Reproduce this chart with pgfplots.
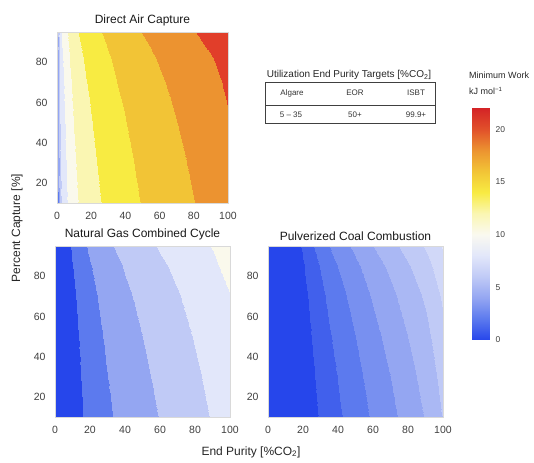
\documentclass[border=0pt]{standalone}
\usepackage{fontspec}
\setmainfont{Liberation Sans}
\usepackage{pgfplots}
\pgfplotsset{compat=1.18}
\pgfplotsset{
  colormap={bands2}{rgb255=(38,70,235) rgb255=(92,122,238) rgb255=(148,166,242) rgb255=(192,202,246) rgb255=(226,231,250) rgb255=(250,249,236) rgb255=(250,246,178) rgb255=(248,235,66) rgb255=(242,196,54) rgb255=(236,147,48) rgb255=(225,62,42)},
  colormap={bands1}{rgb255=(38,70,235) rgb255=(65,96,236) rgb255=(92,122,238) rgb255=(120,144,240) rgb255=(148,166,242) rgb255=(170,184,244) rgb255=(192,202,246) rgb255=(209,216,248) rgb255=(226,231,250) rgb255=(238,240,243) rgb255=(250,249,236) rgb255=(250,247,207) rgb255=(250,246,178) rgb255=(249,240,122) rgb255=(248,235,66) rgb255=(245,215,60) rgb255=(242,196,54) rgb255=(239,171,51) rgb255=(236,147,48) rgb255=(230,104,45) rgb255=(225,62,42) rgb255=(218,48,40)},
  colormap={smooth}{rgb255=(38,70,235) rgb255=(92,122,238) rgb255=(148,166,242) rgb255=(192,202,246) rgb255=(226,231,250) rgb255=(250,249,240) rgb255=(250,246,178) rgb255=(248,235,66) rgb255=(242,196,54) rgb255=(236,147,48) rgb255=(225,80,42) rgb255=(212,35,38)},
  cplot/.style={
    scale only axis, anchor=south west,
    xmin=0, xmax=100, ymin=10, ymax=95,
    xtick={0,20,40,60,80,100}, ytick={20,40,60,80},
    point meta min=0, point meta max=22,
    colormap access=piecewise constant,
    axis line style={draw=black!15}, major tick length=0pt,
    tick label style={font=\fontsize{10.5}{12}\selectfont, text=black!75},
    /pgf/number format/assume math mode=true,
    title style={font=\fontsize{12}{14}\selectfont, text=black!90, yshift=-4pt},
    xticklabel style={yshift=-6pt}, yticklabel style={xshift=-6pt},
    axis on top,
  },
}
\begin{document}
\begin{tikzpicture}
% ---------------- Direct Air Capture ----------------
\begin{axis}[cplot, at={(57pt,259pt)}, width=171pt, height=171pt, colormap name=bands2, title={Direct Air Capture}]
\addplot[surf, shader=interp, mesh/cols=21, point meta=explicit] coordinates {
(0,10)[0] (0.2,10)[1.642] (0.5,10)[3.917] (1,10)[5.641] (2,10)[7.372] (3,10)[8.390] (5,10)[9.682] (7.5,10)[10.719] (10,10)[11.465] (13,10)[12.156] (17,10)[12.876] (22,10)[13.587] (28,10)[14.274] (35,10)[14.938] (43,10)[15.585] (50,10)[16.088] (60,10)[16.744] (70,10)[17.361] (80,10)[17.974] (90,10)[18.629] (100,10)[19.524]
(0,25)[0] (0.2,25)[1.853] (0.5,25)[4.128] (1,25)[5.853] (2,25)[7.583] (3,25)[8.601] (5,25)[9.893] (7.5,25)[10.930] (10,25)[11.677] (13,25)[12.367] (17,25)[13.087] (22,25)[13.798] (28,25)[14.486] (35,25)[15.150] (43,25)[15.796] (50,25)[16.299] (60,25)[16.955] (70,25)[17.572] (80,25)[18.185] (90,25)[18.840] (100,25)[19.600]
(0,40)[0] (0.2,40)[2.093] (0.5,40)[4.368] (1,40)[6.093] (2,40)[7.823] (3,40)[8.841] (5,40)[10.133] (7.5,40)[11.170] (10,40)[11.917] (13,40)[12.607] (17,40)[13.327] (22,40)[14.038] (28,40)[14.726] (35,40)[15.390] (43,40)[16.036] (50,40)[16.539] (60,40)[17.195] (70,40)[17.812] (80,40)[18.425] (90,40)[18.950] (100,40)[19.700]
(0,55)[0] (0.2,55)[2.373] (0.5,55)[4.648] (1,55)[6.372] (2,55)[8.103] (3,55)[9.121] (5,55)[10.413] (7.5,55)[11.450] (10,55)[12.196] (13,55)[12.887] (17,55)[13.607] (22,55)[14.318] (28,55)[15.006] (35,55)[15.669] (43,55)[16.316] (50,55)[16.819] (60,55)[17.475] (70,55)[18.092] (80,55)[18.705] (90,55)[19.150] (100,55)[19.950]
(0,70)[0] (0.2,70)[2.713] (0.5,70)[4.988] (1,70)[6.713] (2,70)[8.444] (3,70)[9.462] (5,70)[10.753] (7.5,70)[11.791] (10,70)[12.537] (13,70)[13.228] (17,70)[13.948] (22,70)[14.658] (28,70)[15.346] (35,70)[16.010] (43,70)[16.656] (50,70)[17.159] (60,70)[17.815] (70,70)[18.432] (80,70)[19.045] (90,70)[19.500] (100,70)[20.300]
(0,82)[0] (0.2,82)[3.059] (0.5,82)[5.334] (1,82)[7.059] (2,82)[8.790] (3,82)[9.808] (5,82)[11.099] (7.5,82)[12.137] (10,82)[12.883] (13,82)[13.574] (17,82)[14.294] (22,82)[15.004] (28,82)[15.692] (35,82)[16.356] (43,82)[17.002] (50,82)[17.505] (60,82)[18.161] (70,82)[18.778] (80,82)[19.391] (90,82)[19.900] (100,82)[20.700]
(0,90)[0] (0.2,90)[3.358] (0.5,90)[5.633] (1,90)[7.358] (2,90)[9.089] (3,90)[10.106] (5,90)[11.398] (7.5,90)[12.436] (10,90)[13.182] (13,90)[13.873] (17,90)[14.593] (22,90)[15.303] (28,90)[15.991] (35,90)[16.655] (43,90)[17.301] (50,90)[17.804] (60,90)[18.460] (70,90)[19.077] (80,90)[19.690] (90,90)[20.345] (100,90)[21.241]
(0,95)[0] (0.2,95)[3.601] (0.5,95)[5.877] (1,95)[7.601] (2,95)[9.332] (3,95)[10.350] (5,95)[11.642] (7.5,95)[12.679] (10,95)[13.425] (13,95)[14.116] (17,95)[14.836] (22,95)[15.547] (28,95)[16.234] (35,95)[16.898] (43,95)[17.545] (50,95)[18.047] (60,95)[18.703] (70,95)[19.321] (80,95)[19.933] (90,95)[20.589] (100,95)[21.484]
};
\end{axis}
% ---------------- Natural Gas Combined Cycle ----------------
\begin{axis}[cplot, at={(55pt,45pt)}, width=175pt, height=171pt, colormap name=bands2, title={Natural Gas Combined Cycle}]
\addplot[surf, shader=interp, mesh/cols=18, point meta=explicit] coordinates {
(0,10)[0] (4,10)[0] (6,10)[0.229] (8,10)[0.609] (10,10)[0.995] (13,10)[1.529] (16,10)[2.005] (20,10)[2.562] (25,10)[3.165] (30,10)[3.692] (35,10)[4.165] (40,10)[4.596] (50,10)[5.374] (60,10)[6.080] (70,10)[6.753] (80,10)[7.427] (90,10)[8.152] (100,10)[9.152]
(0,30)[0] (4,30)[0] (6,30)[0.275] (8,30)[0.707] (10,30)[1.131] (13,30)[1.706] (16,30)[2.208] (20,30)[2.790] (25,30)[3.414] (30,30)[3.955] (35,30)[4.437] (40,30)[4.876] (50,30)[5.665] (60,30)[6.379] (70,30)[7.057] (80,30)[7.734] (90,30)[8.463] (100,30)[9.400]
(0,50)[0] (4,50)[0] (6,50)[0.344] (8,50)[0.845] (10,50)[1.316] (13,50)[1.937] (16,50)[2.470] (20,50)[3.079] (25,50)[3.724] (30,50)[4.281] (35,50)[4.774] (40,50)[5.221] (50,50)[6.021] (60,50)[6.742] (70,50)[7.425] (80,50)[8.107] (90,50)[8.780] (100,50)[9.600]
(0,70)[0] (4,70)[0] (6,70)[0.463] (8,70)[1.058] (10,70)[1.589] (13,70)[2.265] (16,70)[2.832] (20,70)[3.471] (25,70)[4.140] (30,70)[4.711] (35,70)[5.215] (40,70)[5.671] (50,70)[6.482] (60,70)[7.211] (70,70)[7.900] (80,70)[8.586] (90,70)[9.250] (100,70)[9.950]
(0,85)[0] (4,85)[0] (6,85)[0.634] (8,85)[1.328] (10,85)[1.914] (13,85)[2.638] (16,85)[3.234] (20,85)[3.897] (25,85)[4.584] (30,85)[5.168] (35,85)[5.681] (40,85)[6.143] (50,85)[6.963] (60,85)[7.698] (70,85)[8.391] (80,85)[9.080] (90,85)[9.700] (100,85)[10.600]
(0,95)[0] (4,95)[0] (6,95)[0.868] (8,95)[1.650] (10,95)[2.280] (13,95)[3.041] (16,95)[3.658] (20,95)[4.337] (25,95)[5.038] (30,95)[5.630] (35,95)[6.149] (40,95)[6.615] (50,95)[7.442] (60,95)[8.181] (70,95)[8.877] (80,95)[9.568] (90,95)[10.100] (100,95)[11.317]
};
\end{axis}
% ---------------- Pulverized Coal Combustion ----------------
\begin{axis}[cplot, at={(268pt,45pt)}, width=175pt, height=171pt, colormap name=bands1, title={Pulverized Coal Combustion}]
\addplot[surf, shader=interp, mesh/cols=16, point meta=explicit] coordinates {
(0,10)[0] (12,10)[0] (15,10)[0.081] (18,10)[0.254] (21,10)[0.462] (25,10)[0.758] (30,10)[1.131] (35,10)[1.494] (40,10)[1.845] (45,10)[2.182] (50,10)[2.509] (60,10)[3.141] (70,10)[3.761] (80,10)[4.395] (90,10)[5.089] (100,10)[6.065]
(0,30)[0] (12,30)[0] (15,30)[0.100] (18,30)[0.303] (21,30)[0.541] (25,30)[0.872] (30,30)[1.279] (35,30)[1.668] (40,30)[2.039] (45,30)[2.393] (50,30)[2.734] (60,30)[3.387] (70,30)[4.022] (80,30)[4.668] (90,30)[5.373] (100,30)[6.355]
(0,50)[0] (12,50)[0] (15,50)[0.130] (18,50)[0.378] (21,50)[0.656] (25,50)[1.029] (30,50)[1.477] (35,50)[1.897] (40,50)[2.291] (45,50)[2.664] (50,50)[3.020] (60,50)[3.695] (70,50)[4.347] (80,50)[5.005] (90,50)[5.719] (100,50)[6.710]
(0,70)[0] (12,70)[0] (15,70)[0.187] (18,70)[0.505] (21,70)[0.839] (25,70)[1.268] (30,70)[1.765] (35,70)[2.220] (40,70)[2.641] (45,70)[3.035] (50,70)[3.407] (60,70)[4.107] (70,70)[4.777] (80,70)[5.448] (90,70)[6.172] (100,70)[7.171]
(0,85)[0] (12,85)[0] (15,85)[0.280] (18,85)[0.684] (21,85)[1.078] (25,85)[1.562] (30,85)[2.104] (35,85)[2.590] (40,85)[3.034] (45,85)[3.444] (50,85)[3.830] (60,85)[4.550] (70,85)[5.233] (80,85)[5.914] (90,85)[6.646] (100,85)[7.651]
(0,95)[0] (12,95)[0] (15,95)[0.432] (18,95)[0.927] (21,95)[1.374] (25,95)[1.903] (30,95)[2.481] (35,95)[2.990] (40,95)[3.450] (45,95)[3.873] (50,95)[4.268] (60,95)[5.002] (70,95)[5.694] (80,95)[6.383] (90,95)[7.120] (100,95)[8.129]
};
\end{axis}
% ---------------- Colorbar ----------------
\begin{axis}[scale only axis, anchor=south west, at={(472pt,122pt)}, width=17pt, height=232pt,
  xmin=0, xmax=1, ymin=0, ymax=22, xtick=\empty, ytick={0,5,10,15,20},
  yticklabel pos=right, axis line style={draw=none}, major tick length=0pt,
  colormap name=smooth, point meta min=0, point meta max=22,
  tick label style={font=\fontsize{8.5}{10}\selectfont, text=black!75},
  /pgf/number format/assume math mode=true, yticklabel style={xshift=3pt}]
\addplot[surf, shader=interp, mesh/cols=2, point meta=explicit] coordinates {
(0,0)[0] (1,0)[0]
(0,22)[22] (1,22)[22]
};
\end{axis}
% ---------------- Table ----------------
\node[font=\fontsize{10}{12}\selectfont, text=black!85] at (349pt,387pt) {Utilization End Purity Targets [\%CO\textsubscript{2}]};
\draw[black!75, line width=0.6pt] (265pt,339pt) rectangle (435pt,380pt);
\draw[black!75, line width=0.6pt] (265pt,357pt) -- (435pt,357pt);
\begin{scope}[every node/.style={font=\fontsize{8}{10}\selectfont, text=black!80}]
\node at (292pt,369pt) {Algare};
\node at (355pt,369pt) {EOR};
\node at (416pt,369pt) {ISBT};
\node at (291pt,347pt) {5 – 35};
\node at (355pt,347pt) {50+};
\node at (416pt,347pt) {99.9+};
\end{scope}
% ---------------- Colorbar title ----------------
\node[anchor=west, font=\fontsize{9}{11}\selectfont, text=black!85, inner sep=0pt] at (469pt,387pt) {Minimum Work};
\node[anchor=west, font=\fontsize{9}{11}\selectfont, text=black!85, inner sep=0pt] at (469pt,371pt) {kJ mol\textsuperscript{−1}};
% ---------------- Shared axis labels ----------------
\node[rotate=90, font=\fontsize{12}{14}\selectfont, text=black!85] at (17pt,234pt) {Percent Capture [\%]};
\node[font=\fontsize{12}{14}\selectfont, text=black!85] at (251pt,10pt) {End Purity [\%CO\textsubscript{2}]};
\pgfresetboundingbox
\useasboundingbox (0pt,0pt) rectangle (534pt,462pt);
\end{tikzpicture}
\end{document}
